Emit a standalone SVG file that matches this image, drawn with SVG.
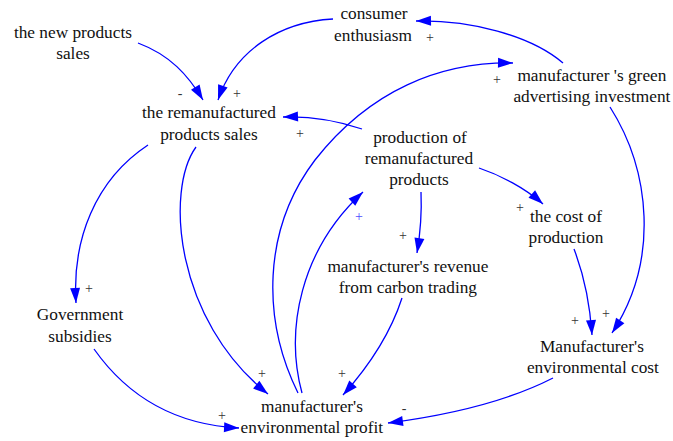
<svg xmlns="http://www.w3.org/2000/svg" width="673" height="441" viewBox="0 0 673 441">
  <rect width="673" height="441" fill="#ffffff"/>

  <g id="connectors">
    <g id="links" fill="none" stroke="#0000ff" stroke-width="1.3">
      <path d="M138,43 C170,55 188,75 203,100"/>
      <path d="M333,19 C280,22 235,50 218,100"/>
      <path d="M563,63 C530,35 470,20 416,21"/>
      <path d="M298,393 C262,320 262,230 315,160 C370,90 440,62 513,63"/>
      <path d="M610,107 C650,170 660,260 612,333"/>
      <path d="M362,129 C335,120 310,116 283,117"/>
      <path d="M479,168 C500,175 525,188 543,204"/>
      <path d="M421,192 C422,215 420,235 417,253"/>
      <path d="M574,249 C584,275 590,305 592,335"/>
      <path d="M402,298 C390,335 370,365 343,395"/>
      <path d="M553,378 C510,400 450,415 388,423"/>
      <path d="M94,349 C130,400 180,425 239,428"/>
      <path d="M148,145 C95,180 72,240 76,303"/>
      <path d="M196,147 C165,190 175,320 268,394"/>
      <path d="M302,393 C285,330 300,250 363,192"/>
    </g>
    <g id="arrowheads" fill="#0000ff">
      <polygon points="203,100 191.0,89.7 199.6,84.6"/>
      <polygon points="218,100 218.1,84.2 227.6,87.4"/>
      <polygon points="416,21 430.9,15.7 431.1,25.7"/>
      <polygon points="513,63 497.9,67.8 498.1,57.8"/>
      <polygon points="612,333 616.1,317.7 624.4,323.2"/>
      <polygon points="283,117 297.8,111.5 298.2,121.4"/>
      <polygon points="543,204 528.5,197.8 535.1,190.3"/>
      <polygon points="417,253 414.5,237.4 424.4,239.0"/>
      <polygon points="592,335 586.0,320.4 596.0,319.7"/>
      <polygon points="343,395 349.3,380.5 356.8,387.2"/>
      <polygon points="388,423 402.2,416.1 403.5,426.0"/>
      <polygon points="239,428 223.8,432.2 224.3,422.2"/>
      <polygon points="76,303 70.1,288.3 80.0,287.7"/>
      <polygon points="268,394 253.1,388.6 259.4,380.7"/>
      <polygon points="363,192 355.3,205.8 348.6,198.5"/>
    </g>
    <g id="polarities" font-size="14" fill="#333">
      <text font-family="'Liberation Serif'" x="177.7" y="98">-</text>
      <text font-family="'Liberation Serif'" x="233" y="98">+</text>
      <text font-family="'Liberation Serif'" x="296" y="138">+</text>
      <text font-family="'Liberation Serif'" x="426" y="42">+</text>
      <text font-family="'Liberation Serif'" x="493" y="84">+</text>
      <text font-family="'Liberation Serif'" x="355" y="221" fill="#4d4dff">+</text>
      <text font-family="'Liberation Serif'" x="399" y="240">+</text>
      <text font-family="'Liberation Serif'" x="516" y="212">+</text>
      <text font-family="'Liberation Serif'" x="85" y="293">+</text>
      <text font-family="'Liberation Serif'" x="571" y="325">+</text>
      <text font-family="'Liberation Serif'" x="602" y="318">+</text>
      <text font-family="'Liberation Serif'" x="258" y="378">+</text>
      <text font-family="'Liberation Serif'" x="338" y="378">+</text>
      <text font-family="'Liberation Serif'" x="218" y="420">+</text>
      <text font-family="'Liberation Serif'" x="401.7" y="413">-</text>
    </g>
  </g>

  <g id="nodes" font-size="17.3" fill="#111">
    <g id="new-products-sales">
      <text font-family="'Liberation Serif'" x="13.9" y="38">the new products</text>
      <text font-family="'Liberation Serif'" x="56.2" y="59">sales</text>
    </g>
    <g id="consumer-enthusiasm">
      <text font-family="'Liberation Serif'" x="340.4" y="19">consumer</text>
      <text font-family="'Liberation Serif'" x="334.1" y="41">enthusiasm</text>
    </g>
    <g id="green-advertising">
      <text font-family="'Liberation Serif'" x="517.4" y="81">manufacturer 's green</text>
      <text font-family="'Liberation Serif'" x="513.4" y="102">advertising investment</text>
    </g>
    <g id="remanufactured-sales">
      <text font-family="'Liberation Serif'" x="142" y="118">the remanufactured</text>
      <text font-family="'Liberation Serif'" x="160.2" y="140">products sales</text>
    </g>
    <g id="production">
      <text font-family="'Liberation Serif'" x="373.2" y="143">production of</text>
      <text font-family="'Liberation Serif'" x="364.7" y="164">remanufactured</text>
      <text font-family="'Liberation Serif'" x="389.2" y="185">products</text>
    </g>
    <g id="cost-of-production">
      <text font-family="'Liberation Serif'" x="530" y="222">the cost of</text>
      <text font-family="'Liberation Serif'" x="528.5" y="243">production</text>
    </g>
    <g id="carbon-revenue">
      <text font-family="'Liberation Serif'" x="327.4" y="272">manufacturer's revenue</text>
      <text font-family="'Liberation Serif'" x="338.8" y="293">from carbon trading</text>
    </g>
    <g id="government-subsidies">
      <text font-family="'Liberation Serif'" x="36.8" y="320">Government</text>
      <text font-family="'Liberation Serif'" x="48.3" y="342">subsidies</text>
    </g>
    <g id="environmental-cost">
      <text font-family="'Liberation Serif'" x="540" y="352">Manufacturer's</text>
      <text font-family="'Liberation Serif'" x="526.9" y="373">environmental cost</text>
    </g>
    <g id="environmental-profit">
      <text font-family="'Liberation Serif'" x="261" y="412">manufacturer's</text>
      <text font-family="'Liberation Serif'" x="240.6" y="433">environmental profit</text>
    </g>
  </g>
</svg>
